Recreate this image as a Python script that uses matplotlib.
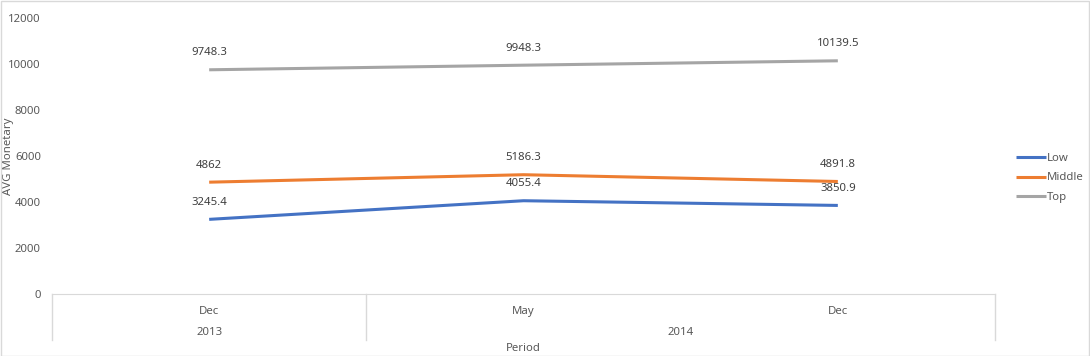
import matplotlib
matplotlib.use('Agg')
import matplotlib.pyplot as plt
from matplotlib.patches import Rectangle
from matplotlib.lines import Line2D
import matplotlib.transforms as mtransforms

plt.rcParams['font.family'] = ['Noto Sans', 'DejaVu Sans']

months = ['Dec', 'May', 'Dec']
years = ['2013', '2014']
year_spans = [(0, 0), (1, 2)]
low = [3245.4, 4055.4, 3850.9]
middle = [4862, 5186.3, 4891.8]
top = [9748.3, 9948.3, 10139.5]
series = [('Low', low, '#4472C4'), ('Middle', middle, '#ED7D31'), ('Top', top, '#A5A5A5')]

W, H = 1090, 356
fig = plt.figure(figsize=(W / 100, H / 100), dpi=100)
ax = fig.add_axes([52 / W, (H - 294) / H, (995 - 52) / W, (294 - 18) / H])

txt = '#595959'
fs = 8.2
for name, vals, col in series:
    ax.plot(range(len(vals)), vals, color=col, lw=2.2, label=name, solid_capstyle='butt')
    for i, v in enumerate(vals):
        ax.annotate(f'{v:g}', (i, v), textcoords='offset pixels', xytext=(0, 17),
                    ha='center', va='center', fontsize=fs, color='#404040')

ax.set_xlim(-0.5, 2.5)
ax.set_ylim(0, 12000)
ax.set_yticks(range(0, 12001, 2000))
ax.tick_params(axis='y', length=0, labelsize=fs, labelcolor=txt, pad=8)
ax.set_xticks([])
for s in ['top', 'right', 'left']:
    ax.spines[s].set_visible(False)
ax.spines['bottom'].set_color('#d9d9d9')
ax.set_ylabel('AVG Monetary', fontsize=fs, color=txt)
ax.yaxis.set_label_coords(-38 / 943, 0.5)

# category axis: months, years, dividers
trans = mtransforms.blended_transform_factory(ax.transData, ax.transAxes)
px = 1 / (294 - 18)
for i, m in enumerate(months):
    ax.text(i, -20 * px, m, transform=trans, ha='center', va='baseline', fontsize=fs, color=txt)
for y, (a, b) in zip(years, year_spans):
    ax.text((a + b) / 2, -41 * px, y, transform=trans, ha='center', va='baseline', fontsize=fs, color=txt)
for xd in [-0.5, 0.5, 2.5]:
    ax.add_line(Line2D([xd, xd], [0, -46 * px], transform=trans, color='#d9d9d9', lw=1, clip_on=False))
ax.text(1, -57 * px, 'Period', transform=trans, ha='center', va='baseline', fontsize=fs, color=txt)

leg = fig.legend(loc='center left', bbox_to_anchor=(1006 / W, 1 - 178 / H), frameon=False,
                 fontsize=fs, handlelength=2.6, handletextpad=0.1, labelspacing=0.75)
for t in leg.get_texts():
    t.set_color(txt)

fig.patches.append(Rectangle((0.5 / W, 0.5 / H), 1 - 1.5 / W, 1 - 1.5 / H, transform=fig.transFigure,
                             fill=False, edgecolor='#d9d9d9', lw=1))

fig.savefig('out.png', dpi=100)
